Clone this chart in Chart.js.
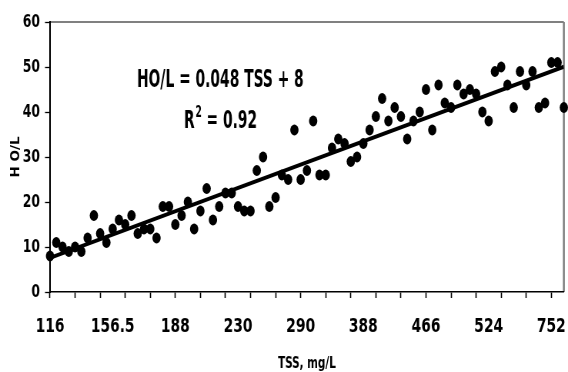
<!DOCTYPE html>
<html>
<head>
<meta charset="utf-8">
<script src="https://cdn.jsdelivr.net/npm/chart.js@4.4.1/dist/chart.umd.min.js"></script>
<style>
  html, body { margin: 0; padding: 0; background: #ffffff; }
  canvas { display: block; }
</style>
</head>
<body>
<canvas id="c" width="738" height="372" style="width:568px;height:372px;display:block"></canvas>
<script>
// ---- data ----
// tick labels (TSS, mg/L) shown every 10th sample
const tssTickLabels = ['116', '156.5', '188', '230', '290', '388', '466', '524', '752'];
// HO/L values, one per sample (ordered by TSS)
const hoValues = [
  8, 11, 10, 9, 10, 9, 12, 17, 13, 11, 14, 16, 15, 17,
  13, 14, 14, 12, 19, 19, 15, 17, 20, 14, 18, 23, 16, 19,
  22, 22, 19, 18, 18, 27, 30, 19, 21, 26, 25, 36, 25, 27,
  38, 26, 26, 32, 34, 33, 29, 30, 33, 36, 39, 43, 38,
  41, 39, 34, 38, 40, 45, 36, 46, 42, 41, 46, 44, 45, 44,
  40, 38, 49, 50, 46, 41, 49, 46, 49, 41, 42, 51, 51, 41
];
const equationText = 'HO/L = 0.048 TSS + 8';
const r2Text = '0.92';
const labelEvery = 10;
const tickEvery = 4;

// ---- derived ----
const points = hoValues.map((v, i) => ({ x: i, y: v }));
const n = points.length;
const mx = points.reduce((s, p) => s + p.x, 0) / n;
const my = points.reduce((s, p) => s + p.y, 0) / n;
let sxy = 0, sxx = 0;
points.forEach(p => { sxy += (p.x - mx) * (p.y - my); sxx += (p.x - mx) * (p.x - mx); });
const slope = sxy / sxx;
const intercept = my - slope * mx;
const trend = [{ x: 0, y: intercept }, { x: n - 1, y: intercept + slope * (n - 1) }];

// The canvas is drawn wider and shown at 568px, giving the narrow (condensed) look of the original.
const K = 738 / 568;
const FONT = "'Liberation Sans Narrow', 'Arial Narrow', 'DejaVu Sans Condensed', 'DejaVu Sans', sans-serif";

const framePlugin = {
  id: 'frame',
  beforeDraw(chart) {
    const { ctx, chartArea: a } = chart;
    ctx.save();
    ctx.fillStyle = '#fff';
    ctx.fillRect(0, 0, chart.width, chart.height);
    ctx.strokeStyle = '#808080';
    ctx.lineWidth = 2;
    ctx.beginPath();
    ctx.moveTo(a.left, a.top);
    ctx.lineTo(a.right, a.top);
    ctx.stroke();
    ctx.lineWidth = 2.6;
    ctx.beginPath();
    ctx.moveTo(a.right, a.top);
    ctx.lineTo(a.right, a.bottom);
    ctx.stroke();
    ctx.restore();
  },
  afterDraw(chart) {
    const { ctx } = chart;
    ctx.save();
    ctx.fillStyle = '#000';
    ctx.textBaseline = 'alphabetic';
    // equation
    ctx.save();
    ctx.translate(137 * K, 87);
    ctx.scale(1, 1.25);
    ctx.font = 'bold 20px ' + FONT;
    ctx.fillText(equationText, 0, 0);
    ctx.restore();
    // R^2
    ctx.save();
    ctx.translate(184 * K, 128);
    ctx.scale(1, 1.25);
    ctx.font = 'bold 20px ' + FONT;
    ctx.fillText('R', 0, 0);
    const w1 = ctx.measureText('R').width;
    ctx.font = 'bold 13px ' + FONT;
    ctx.fillText('2', w1 + 1, -8.5);
    const w2 = ctx.measureText('2').width;
    ctx.font = 'bold 20px ' + FONT;
    ctx.fillText(' = ' + r2Text, w1 + 1 + w2, 0);
    ctx.restore();
    ctx.restore();
  }
};

new Chart(document.getElementById('c'), {
  data: {
    datasets: [
      {
        type: 'line',
        data: trend,
        borderColor: '#000',
        borderWidth: 4,
        pointRadius: 0,
        fill: false,
        order: 2
      },
      {
        type: 'scatter',
        data: points,
        pointStyle: 'circle',
        pointRadius: 5.4,
        pointBorderWidth: 0,
        backgroundColor: '#000',
        borderColor: '#000',
        showLine: false,
        clip: false,
        order: 1
      }
    ]
  },
  options: {
    responsive: false,
    animation: false,
    events: [],
    layout: { padding: { left: 0, right: 1.3, top: 22, bottom: 0 } },
    plugins: { legend: { display: false }, tooltip: { enabled: false } },
    scales: {
      x: {
        type: 'linear',
        min: 0,
        max: n - 1,
        afterBuildTicks(scale) {
          const t = [];
          for (let v = 0; v <= n - 1; v += 2) t.push({ value: v });
          scale.ticks = t;
        },
        afterFit(scale) {
          scale.height = 80;
          scale.paddingLeft = 0;
          scale.paddingRight = 0;
        },
        grid: {
          drawOnChartArea: false,
          drawTicks: true,
          tickLength: 6,
          tickWidth: 1.6,
          tickColor: (c) => (c.tick && c.tick.value % tickEvery === 0) ? '#000' : 'rgba(0,0,0,0)'
        },
        border: { display: true, color: '#000', width: 1.5 },
        ticks: {
          autoSkip: false,
          maxRotation: 0,
          padding: 17,
          color: '#000',
          font: { family: FONT, size: 20, weight: 'bold' },
          callback: (v) => (v % labelEvery === 0) ? tssTickLabels[v / labelEvery] : ''
        },
        title: {
          display: true,
          text: 'TSS, mg/L',
          color: '#000',
          padding: { top: 0, bottom: 0 },
          font: { family: FONT, size: 15, weight: 'bold', lineHeight: 1.1 }
        }
      },
      y: {
        type: 'linear',
        min: 0,
        max: 60,
        afterFit(scale) { scale.width = 50 * K; },
        grid: {
          drawOnChartArea: false,
          drawTicks: true,
          tickLength: 5 * K,
          tickWidth: 1.3,
          tickColor: '#000'
        },
        border: { display: true, color: '#000', width: 2 },
        ticks: {
          stepSize: 10,
          padding: 5 * K,
          color: '#000',
          font: { family: FONT, size: 18, weight: 'bold' }
        },
        title: {
          display: true,
          text: 'H O/L',
          color: '#000',
          padding: { top: 12, bottom: 0 },
          font: { family: FONT, size: 15, weight: 'bold' }
        }
      }
    }
  },
  plugins: [framePlugin]
});
</script>
</body>
</html>
